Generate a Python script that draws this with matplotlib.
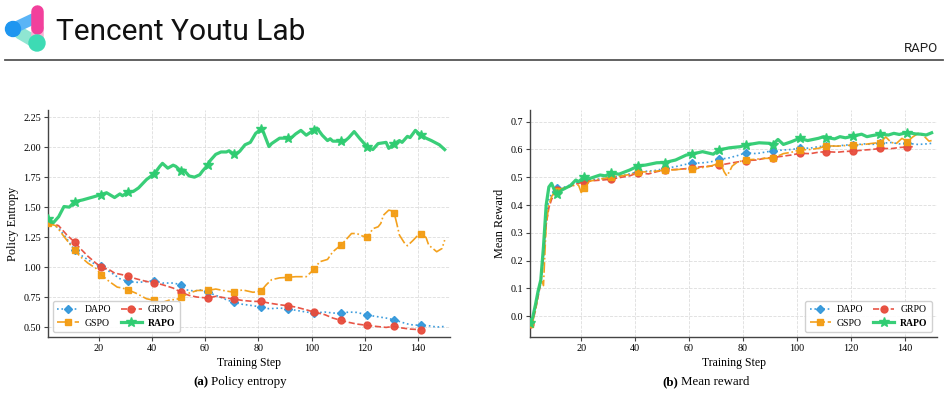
import matplotlib
matplotlib.use("Agg")
import matplotlib.pyplot as plt
from matplotlib.offsetbox import TextArea, HPacker, AnnotationBbox
from matplotlib.patches import Circle

plt.rcParams['font.family'] = 'serif'
plt.rcParams['font.serif'] = ['Liberation Serif', 'DejaVu Serif']

# ---------------- data: (a) policy entropy ----------------
ent_dapo_steps = [1, 5, 8, 11, 14, 18, 21, 25, 28, 31, 35, 38, 41, 44, 48, 51, 53, 56, 58, 61,
                  65, 68, 71, 74, 78, 81, 84, 88, 91, 94, 98, 101, 105, 108, 111, 114, 117, 121, 124, 128,
                  131, 134, 137, 141, 144, 147, 150]
ent_dapo = [1.38, 1.325, 1.24, 1.14, 1.09, 1.033, 1.005, 0.95, 0.903, 0.88, 0.872, 0.88, 0.886, 0.867, 0.867,
            0.853, 0.81, 0.80, 0.81, 0.79, 0.756, 0.728, 0.705, 0.69, 0.678, 0.667, 0.653, 0.658, 0.653, 0.64,
            0.625, 0.617, 0.625, 0.617, 0.615, 0.625, 0.622, 0.60, 0.589, 0.575, 0.561, 0.539, 0.52, 0.514,
            0.511, 0.50, 0.505]

ent_grpo_steps = [1, 5, 8, 11, 13, 16, 19, 21, 24, 26, 29, 31, 34, 38, 41, 44, 48, 51, 54, 57,
                  61, 64, 68, 71, 74, 78, 81, 84, 88, 91, 94, 98, 101, 105, 108, 111, 114, 117, 121, 124,
                  128, 131, 134, 137, 141]
ent_grpo = [1.38, 1.345, 1.27, 1.208, 1.158, 1.09, 1.033, 1.00, 0.978, 0.95, 0.936, 0.925, 0.903, 0.88, 0.87,
            0.853, 0.825, 0.79, 0.764, 0.75, 0.742, 0.756, 0.742, 0.733, 0.722, 0.714, 0.714, 0.70, 0.686,
            0.678, 0.667, 0.644, 0.625, 0.603, 0.575, 0.556, 0.539, 0.525, 0.514, 0.506, 0.497, 0.506, 0.492,
            0.483, 0.478]

ent_gspo_steps = [1, 4, 7, 10, 11, 13, 16, 19, 21, 24, 27, 29, 31, 34, 38, 41, 43, 45, 47, 49,
                  51, 54, 57, 61, 64, 68, 71, 74, 78, 81, 83, 85, 88,
                  91, 94, 98, 101, 103, 106, 108, 111, 113, 115, 117, 119, 121, 123, 125, 126, 127, 129, 130,
                  131, 132, 133, 135, 136, 138, 140, 141, 143, 144, 146, 147, 149, 150]
ent_gspo = [1.365, 1.345, 1.255, 1.17, 1.14, 1.09, 1.033, 0.99, 0.936, 0.88, 0.833, 0.825, 0.81, 0.783, 0.736,
            0.722, 0.70, 0.713, 0.728, 0.728, 0.747, 0.783, 0.805, 0.805, 0.817, 0.80, 0.79, 0.81, 0.79, 0.80,
            0.853, 0.895, 0.91,
            0.914, 0.92, 0.92, 0.983, 1.044, 1.064, 1.128, 1.183, 1.23, 1.28, 1.28, 1.26, 1.247, 1.32, 1.336,
            1.364, 1.433, 1.475, 1.47, 1.453, 1.364, 1.267, 1.197, 1.178, 1.22, 1.267, 1.275, 1.247, 1.183,
            1.147, 1.128, 1.155, 1.225]

ent_rapo_steps = [1, 3, 5, 7, 9, 11, 14, 18, 21, 23, 26, 28, 29, 31, 33, 35, 38, 41, 43, 44,
                  46, 48, 49, 51, 52, 54, 56, 58, 59, 61, 62, 64, 66, 68, 69, 71, 73, 75, 77, 79,
                  81, 82, 84, 85, 88, 91, 92, 94, 96, 98, 101, 102, 104, 106, 107, 108, 111, 112, 114, 116,
                  118, 121, 123, 125, 128, 129, 131, 133, 134, 136, 137, 139, 141, 143, 145, 148, 150]
ent_rapo = [1.40, 1.37, 1.42, 1.505, 1.50, 1.545, 1.56, 1.585, 1.605, 1.62, 1.58, 1.61, 1.595, 1.625, 1.63,
            1.66, 1.73, 1.78, 1.84, 1.865, 1.825, 1.85, 1.84, 1.80, 1.81, 1.76, 1.75, 1.77, 1.80, 1.85,
            1.89, 1.94, 1.96, 1.96, 1.97, 1.94, 1.965, 2.02, 2.04, 2.115, 2.15, 2.12, 2.005, 2.03, 2.075,
            2.075, 2.07, 2.11, 2.14, 2.10, 2.145, 2.16, 2.10, 2.055, 2.07, 2.05, 2.05, 2.04, 2.08, 2.13,
            2.075, 2.00, 1.98, 2.03, 2.04, 1.99, 2.028, 2.055, 2.04, 2.09, 2.08, 2.14, 2.10, 2.075, 2.055,
            2.02, 1.98]

# ---------------- data: (b) mean reward ----------------
rew_dapo_steps = [1, 2, 3, 4, 5, 6, 7, 8, 9, 10, 11, 14, 18, 21, 25, 28, 31, 35, 38, 41,
                  45, 48, 51, 55, 58, 61, 65, 68, 71, 75, 78, 81, 85, 88, 91, 95, 98, 101, 105, 108,
                  111, 115, 118, 121, 125, 128, 131, 135, 138, 141, 145, 148, 150]
rew_dapo = [-0.02, -0.01, 0.035, 0.08, 0.12, 0.22, 0.36, 0.42, 0.44, 0.455, 0.46, 0.465, 0.48, 0.49, 0.492,
            0.495, 0.50, 0.505, 0.512, 0.52, 0.522, 0.525, 0.532, 0.538, 0.545, 0.55, 0.552, 0.555, 0.564,
            0.57, 0.578, 0.588, 0.585, 0.59, 0.595, 0.598, 0.60, 0.604, 0.605, 0.61, 0.613, 0.612, 0.616,
            0.616, 0.62, 0.618, 0.622, 0.625, 0.62, 0.622, 0.618, 0.62, 0.622]

rew_grpo_steps = [1, 2, 3, 4, 5, 6, 7, 8, 9, 10, 11, 14, 18, 21, 25, 28, 31, 35, 38, 41,
                  45, 48, 51, 55, 58, 61, 65, 68, 71, 75, 78, 81, 85, 88, 91, 95, 98, 101, 105, 108,
                  111, 115, 118, 121, 125, 128, 131, 135, 138, 141, 143]
rew_grpo = [-0.03, -0.02, 0.02, 0.07, 0.12, 0.21, 0.33, 0.39, 0.42, 0.44, 0.454, 0.46, 0.475, 0.484, 0.488,
            0.49, 0.493, 0.50, 0.505, 0.516, 0.512, 0.52, 0.526, 0.528, 0.53, 0.534, 0.538, 0.54, 0.543,
            0.55, 0.555, 0.56, 0.562, 0.568, 0.571, 0.576, 0.58, 0.586, 0.585, 0.59, 0.592, 0.59, 0.593,
            0.594, 0.598, 0.60, 0.604, 0.603, 0.607, 0.609, 0.61]

rew_gspo_steps = [1, 2, 3, 4, 5, 6, 7, 8, 9, 10, 11, 13, 15, 17, 19, 20, 21, 23, 25, 28,
                  31, 35, 38, 41, 45, 48, 51, 55, 58, 61, 65, 68, 71, 72, 73, 74, 75, 76, 78, 81,
                  85, 88, 91, 95, 98, 101, 105, 108, 111, 115, 118, 121, 125, 128, 131, 133, 135, 137, 139, 141,
                  143, 145, 147, 149, 150]
rew_gspo = [-0.03, -0.02, 0.02, 0.08, 0.14, 0.11, 0.33, 0.40, 0.43, 0.445, 0.45, 0.46, 0.465, 0.47, 0.472,
            0.445, 0.46, 0.485, 0.49, 0.495, 0.50, 0.505, 0.51, 0.518, 0.52, 0.522, 0.526, 0.527, 0.53,
            0.528, 0.535, 0.54, 0.55, 0.545, 0.52, 0.505, 0.52, 0.54, 0.555, 0.562, 0.565, 0.568, 0.568,
            0.585, 0.59, 0.598, 0.60, 0.604, 0.613, 0.612, 0.614, 0.616, 0.618, 0.622, 0.625, 0.645, 0.625,
            0.622, 0.64, 0.628, 0.645, 0.658, 0.65, 0.63, 0.632]

rew_rapo_steps = [1, 2, 3, 4, 5, 6, 7, 8, 9, 10, 11, 13, 16, 18, 19, 21, 23, 27, 29, 31,
                  34, 38, 41, 44, 48, 51, 55, 59, 61, 65, 69, 71, 75, 79, 81, 86, 90, 91, 93, 95,
                  98, 101, 104, 106, 108, 110, 111, 114, 116, 118, 121, 124, 126, 128, 131, 134, 136, 138, 141, 144,
                  146, 148, 150]
rew_rapo = [-0.025, -0.005, 0.04, 0.09, 0.13, 0.25, 0.40, 0.465, 0.478, 0.455, 0.44, 0.455, 0.47, 0.49, 0.484,
            0.50, 0.495, 0.508, 0.505, 0.516, 0.511, 0.526, 0.54, 0.544, 0.552, 0.553, 0.562, 0.58, 0.583,
            0.592, 0.583, 0.598, 0.606, 0.61, 0.616, 0.624, 0.622, 0.617, 0.636, 0.618, 0.628, 0.64, 0.632,
            0.636, 0.64, 0.646, 0.643, 0.638, 0.646, 0.642, 0.648, 0.655, 0.646, 0.65, 0.655, 0.652, 0.658,
            0.654, 0.661, 0.656, 0.655, 0.652, 0.660]

method_names = ['DAPO', 'GRPO', 'GSPO', 'RAPO']
colors = {'DAPO': '#3498db', 'GRPO': '#e74c3c', 'GSPO': '#f39c12', 'RAPO': '#2ecc71'}
styles = {'DAPO': dict(ls=':', marker='D', ms=4.5, lw=1.2),
          'GRPO': dict(ls='--', marker='o', ms=5, lw=1.2),
          'GSPO': dict(ls='-.', marker='s', ms=5, lw=1.2),
          'RAPO': dict(ls='-', marker='*', ms=7.5, lw=2.3)}

ent_series = {'DAPO': (ent_dapo_steps, ent_dapo), 'GRPO': (ent_grpo_steps, ent_grpo),
              'GSPO': (ent_gspo_steps, ent_gspo), 'RAPO': (ent_rapo_steps, ent_rapo)}
rew_series = {'DAPO': (rew_dapo_steps, rew_dapo), 'GRPO': (rew_grpo_steps, rew_grpo),
              'GSPO': (rew_gspo_steps, rew_gspo), 'RAPO': (rew_rapo_steps, rew_rapo)}

W, H = 948, 405
fig = plt.figure(figsize=(W / 100, H / 100), dpi=100)

# overlay for page elements (pixel coords)
ov = fig.add_axes([0, 0, 1, 1])
ov.set_xlim(0, W)
ov.set_ylim(H, 0)
ov.axis('off')

# logo
ov.plot([20, 37], [33, 43], color='#8fe6d2', lw=9, solid_capstyle='round', zorder=2)
ov.plot([14, 33], [28, 19], color='#5ab4f6', lw=8, solid_capstyle='round', zorder=2)
ov.plot([37, 37], [26, 38], color='#f6b3d4', lw=9, solid_capstyle='butt', zorder=2)
ov.plot([37, 37], [11, 28], color='#f2409c', lw=9, solid_capstyle='round', zorder=3)
ov.add_patch(Circle((13, 29), 7.5, color='#1e96f0', zorder=4))
ov.add_patch(Circle((37, 43), 8, color='#3ddbb4', zorder=4))

ov.text(56, 32, 'Tencent Youtu Lab', fontsize=21.5, family='Roboto',
        color='#111111', va='center', ha='left')
ov.text(938, 52, 'RAPO', fontsize=9.5, family='Roboto', color='#222222', va='baseline', ha='right')
ov.plot([5, 943], [59.5, 59.5], color='#555555', lw=1.3)

def caption(x, y, tag, text):
    box = HPacker(children=[TextArea(tag, textprops=dict(fontweight='bold', fontsize=9.3,
                                                         family='Liberation Serif')),
                            TextArea(text, textprops=dict(fontsize=9.3, family='Liberation Serif'))],
                  sep=2, pad=0, align='baseline')
    ab = AnnotationBbox(box, (x, y), xycoords=ov.transData, frameon=False,
                        box_alignment=(0.5, 0.5))
    ov.add_artist(ab)

caption(240, 382, '(a)', 'Policy entropy')
caption(706, 382, '(b)', 'Mean reward')

def make_axes(x0, x1, y0, y1):
    return fig.add_axes([x0 / W, 1 - y1 / H, (x1 - x0) / W, (y1 - y0) / H])

axL = make_axes(48, 450, 110, 337)
axR = make_axes(530, 937, 110, 337)

def draw(ax, series, ylabel, ylim, yticks, loc):
    handles = {}
    for name in method_names:
        steps, vals = series[name]
        st = styles[name]
        me = [i for i, s in enumerate(steps) if (s - 1) % 10 == 0]
        h, = ax.plot(steps, vals, color=colors[name], ls=st['ls'], lw=st['lw'],
                     marker=st['marker'], ms=st['ms'], markevery=me, alpha=0.95,
                     zorder=3 if name != 'RAPO' else 4, label=name)
        handles[name] = h
    ax.set_xlim(1, 152)
    ax.set_ylim(*ylim)
    ax.set_xticks([20, 40, 60, 80, 100, 120, 140])
    ax.set_yticks(yticks)
    ax.grid(True, ls='--', color='#d5d5d5', lw=0.6, alpha=0.8)
    ax.set_axisbelow(True)
    for s in ['top', 'right']:
        ax.spines[s].set_visible(False)
    for s in ['left', 'bottom']:
        ax.spines[s].set_color('#444444')
        ax.spines[s].set_linewidth(1.0)
    ax.tick_params(labelsize=7.3, length=3, width=0.8, color='#444444', pad=2)
    ax.set_xlabel('Training Step', fontsize=8.5, labelpad=3)
    ax.set_ylabel(ylabel, fontsize=8.8, labelpad=3)
    order = ['DAPO', 'GSPO', 'GRPO', 'RAPO']
    leg = ax.legend([handles[n] for n in order], order, ncol=2, loc=loc, fontsize=7,
                    frameon=True, fancybox=True, framealpha=0.9, edgecolor='#cccccc',
                    handlelength=2.2, columnspacing=1.0, handletextpad=0.6,
                    borderpad=0.45, labelspacing=0.45)
    for t in leg.get_texts():
        if t.get_text() == 'RAPO':
            t.set_fontweight('bold')
    return ax

draw(axL, ent_series, 'Policy Entropy', (0.417, 2.31),
     [0.50, 0.75, 1.00, 1.25, 1.50, 1.75, 2.00, 2.25], 'lower left')
draw(axR, rew_series, 'Mean Reward', (-0.075, 0.742),
     [0.0, 0.1, 0.2, 0.3, 0.4, 0.5, 0.6, 0.7], 'lower right')

fig.savefig('out.png', dpi=100)
